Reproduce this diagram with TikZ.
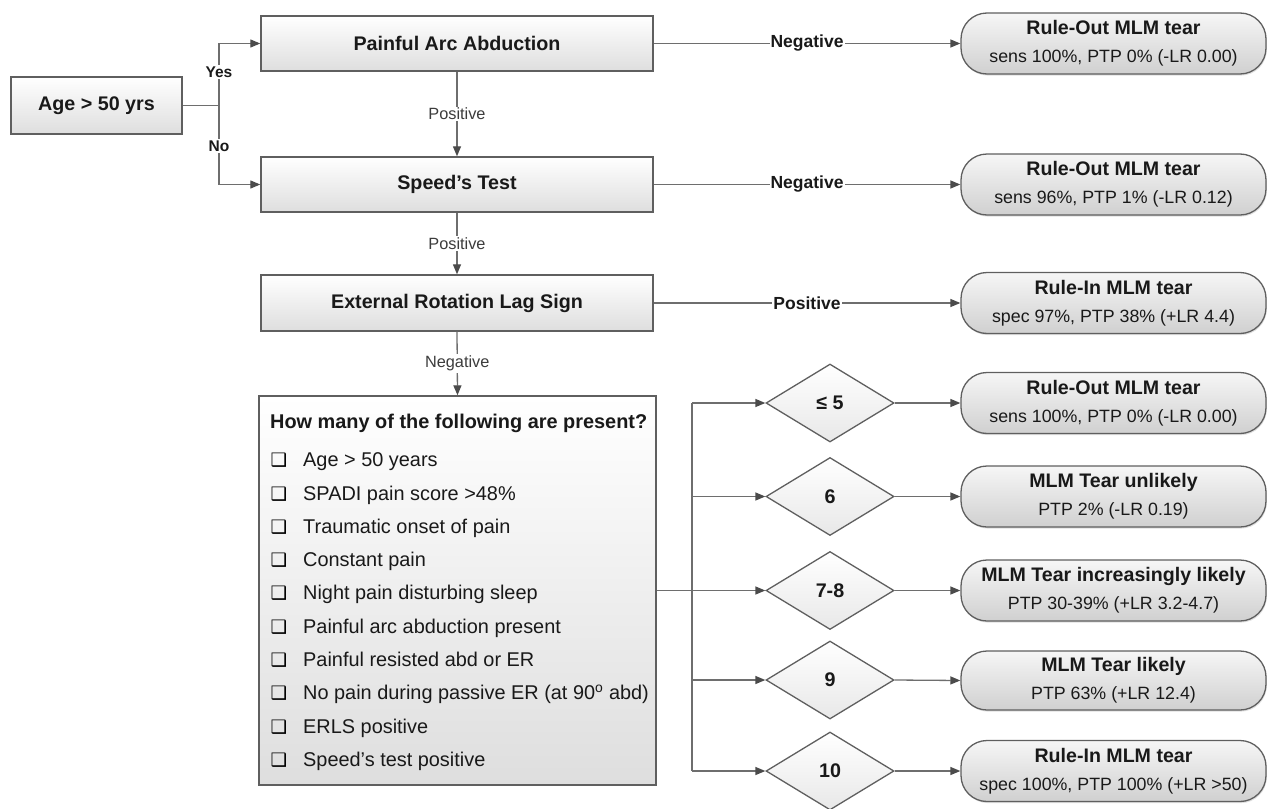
\documentclass[tikz,border=0pt]{standalone}
\usepackage{fontspec}
\setmainfont{Liberation Sans}
\newfontfamily\dejavu{DejaVu Sans}
\usetikzlibrary{arrows.meta,shapes.geometric,shadows}

\definecolor{linecol}{RGB}{110,110,110}
\definecolor{arrowcol}{RGB}{75,75,75}
\definecolor{bordercol}{RGB}{95,95,95}
\definecolor{textcol}{RGB}{25,25,25}
\definecolor{labelcol}{RGB}{60,60,60}
\definecolor{boxbot}{RGB}{222,222,222}
\definecolor{restop}{RGB}{246,246,246}
\definecolor{resbot}{RGB}{208,208,208}
\definecolor{diabot}{RGB}{232,232,232}

\begin{document}
\begin{tikzpicture}[x=1pt,y=-1pt,
  rectbox/.style={draw=bordercol, line width=1.4pt, top color=white, bottom color=boxbot,
    minimum width=392pt, minimum height=55pt, inner sep=0pt, text=textcol,
    font=\bfseries\fontsize{19.7}{24}\selectfont},
  qbox/.style={draw=bordercol, line width=1.4pt, top color=white, bottom color=boxbot,
    minimum width=397pt, minimum height=389pt, inner sep=0pt},
  result/.style={draw=bordercol, line width=1.3pt, rounded corners=26pt,
    top color=restop, bottom color=resbot, minimum width=305pt, minimum height=61pt,
    inner sep=0pt, align=center, text=textcol, font=\fontsize{17.8}{28}\selectfont,
    drop shadow={shadow xshift=0.8pt, shadow yshift=-1.6pt, opacity=0.25}},
  rtitle/.style={},
  diam/.style={diamond, draw=bordercol, line width=1.3pt, top color=white, bottom color=diabot,
    minimum width=128pt, minimum height=78pt, inner sep=0pt, text=textcol,
    font=\bfseries\fontsize{19.7}{24}\selectfont},
  conn/.style={draw=linecol, line width=1.3pt},
  arr/.style={draw=linecol, line width=1.3pt, -{Triangle[length=10pt,width=8pt,color=arrowcol]}},
  vlabel/.style={fill=white, inner sep=1.5pt, text=labelcol, font=\fontsize{16.3}{18}\selectfont},
  hlabel/.style={fill=white, inner sep=1pt, text=textcol, font=\bfseries\fontsize{17.5}{20}\selectfont},
  yn/.style={fill=white, inner sep=1.5pt, text=textcol, font=\bfseries\fontsize{15.5}{18}\selectfont},
  qhead/.style={inner sep=0pt, text=textcol, font=\bfseries\fontsize{19.9}{24}\selectfont},
  qitem/.style={inner sep=0pt, text=textcol, font=\fontsize{19.9}{24}\selectfont},
  cbox/.style={inner sep=0pt, text=black, font=\dejavu\fontsize{18.5}{20}\selectfont}
]
\useasboundingbox (0,0) rectangle (1268,808);

% left column
\node[rectbox, minimum width=171pt, minimum height=57pt] (age) at (96.5,105.5) {Age > 50 yrs};
\node[rectbox] (pa) at (457,43.5) {Painful Arc Abduction};
\node[rectbox] (sp) at (457,184.5) {Speed’s Test};
\node[rectbox, minimum height=56pt] (er) at (457,303) {External Rotation Lag Sign};
\node[qbox] (q) at (457.5,590.5) {};

\node[qhead, anchor=base west] (qh) at (270,428) {How many of the following are present?};
\foreach \t [count=\i from 0] in {Age > 50 years, SPADI pain score >48\%, Traumatic onset of pain,
  Constant pain, Night pain disturbing sleep, Painful arc abduction present,
  Painful resisted abd or ER, No pain during passive ER (at 90\textsuperscript{o} abd),
  ERLS positive, Speed’s test positive}{
  \node[cbox, anchor=base west] (cb\i) at (270.5,466.7+33.3*\i) {❑};
  \node[qitem, anchor=base west] (it\i) at (303,466.7+33.3*\i) {\t};
}

% top results
\node[result] (r1) at (1113.5,43.5) {{\bfseries\fontsize{19.6}{28}\selectfont Rule-Out MLM tear}\\sens 100\%, PTP 0\% (-LR 0.00)};
\node[result] (r2) at (1113.5,184.5) {{\bfseries\fontsize{19.6}{28}\selectfont Rule-Out MLM tear}\\sens 96\%, PTP 1\% (-LR 0.12)};
\node[result] (r3) at (1113.5,303) {{\bfseries\fontsize{19.6}{28}\selectfont Rule-In MLM tear}\\spec 97\%, PTP 38\% (+LR 4.4)};

% diamonds
\node[diam] (d1) at (830,403) {≤ 5};
\node[diam] (d2) at (830,496.5) {6};
\node[diam] (d3) at (830,590.5) {7-8};
\node[diam] (d4) at (830,680) {9};
\node[diam] (d5) at (830,771) {10};

% lower results
\node[result] (r4) at (1113.5,403) {{\bfseries\fontsize{19.6}{28}\selectfont Rule-Out MLM tear}\\sens 100\%, PTP 0\% (-LR 0.00)};
\node[result] (r5) at (1113.5,496.5) {{\bfseries\fontsize{19.6}{28}\selectfont MLM Tear unlikely}\\PTP 2\% (-LR 0.19)};
\node[result] (r6) at (1113.5,590.5) {{\bfseries\fontsize{19.6}{28}\selectfont MLM Tear increasingly likely}\\PTP 30-39\% (+LR 3.2-4.7)};
\node[result, minimum height=59pt] (r7) at (1113.5,680.5) {{\bfseries\fontsize{19.6}{28}\selectfont MLM Tear likely}\\PTP 63\% (+LR 12.4)};
\node[result] (r8) at (1113.5,771) {{\bfseries\fontsize{19.6}{28}\selectfont Rule-In MLM tear}\\spec 100\%, PTP 100\% (+LR >50)};

% age branch
\coordinate (br) at (219,105.5);
\draw[conn] (age.east) -- (br);
\draw[arr] (br) |- (pa.west);
\draw[arr] (br) |- (sp.west);
\node[yn] (yes) at (219,72) {Yes};
\node[yn] (no) at (219,146) {No};

% vertical chain
\draw[arr] (pa.south) -- (sp.north) node[vlabel, midway] (l1) {Positive};
\draw[arr] (sp.south) -- (er.north) node[vlabel, midway] (l2) {Positive};
\draw[arr] (er.south) -- (q.north) node[vlabel, midway] (l3) {Negative};

% horizontal outcomes
\draw[arr] (pa.east) -- (r1.west) node[hlabel, midway] (h1) {Negative};
\draw[arr] (sp.east) -- (r2.west) node[hlabel, midway] (h2) {Negative};
\draw[arr] (er.east) -- (r3.west) node[hlabel, midway] (h3) {Positive};

% count branch
\coordinate (qj) at (692,590.5);
\draw[conn] (q.east) -- (qj);
\draw[conn] (qj |- d1.west) -- (qj |- d5.west);
\foreach \k in {1,...,5}{
  \draw[arr] (qj |- d\k.west) -- (d\k.west);
}
\draw[arr] (d1.east) -- (r4.west);
\draw[arr] (d2.east) -- (r5.west);
\draw[arr] (d3.east) -- (r6.west);
\draw[arr] (d4.east) -- (r7.west);
\draw[arr] (d5.east) -- (r8.west);
\end{tikzpicture}
\end{document}
